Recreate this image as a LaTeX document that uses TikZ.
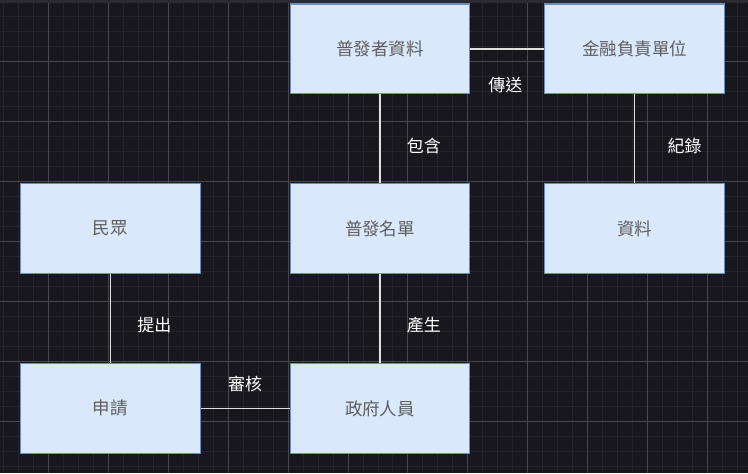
\documentclass[tikz,border=0pt]{standalone}
\usepackage{fontspec}
\setmainfont{Noto Sans CJK TC}
\begin{document}
\begin{tikzpicture}[x=1pt, y=-1pt]
    \definecolor{my-bg}{HTML}{19171E}
    \definecolor{my-strip}{HTML}{2C2A31}
    \definecolor{my-minor}{HTML}{25232A}
    \definecolor{my-major}{HTML}{48464C}
    \definecolor{my-fill}{HTML}{DAE8FC}
    \definecolor{my-border}{HTML}{6C8EBF}
    \definecolor{my-text}{HTML}{5E5E5E}
    \tikzset{
      box/.style={draw=my-border, fill=my-fill, line width=1.2pt,
        minimum width=180pt, minimum height=90pt, inner sep=0pt,
        text=my-text, font=\fontsize{17.5}{19}\selectfont},
      link/.style={draw=white!88!black, line width=1.4pt},
      tag/.style={text=white, font=\fontsize{17}{19}\selectfont, inner sep=0pt}
    }
    % background and grid
    \fill[my-bg] (0,0) rectangle (748,474);
    \foreach \x in {3,18,...,745} \draw[my-minor, line width=1pt] (\x,3) -- (\x,474);
    \foreach \y in {17,32,...,474} \draw[my-minor, line width=1pt] (0,\y) -- (748,\y);
    \foreach \x in {48,108,...,708} \draw[my-major, line width=1pt] (\x,3) -- (\x,474);
    \foreach \y in {62,122,...,422} \draw[my-major, line width=1pt] (0,\y) -- (748,\y);
    \fill[my-strip] (0,0) rectangle (748,3);
    % boxes
    \node[box] (holder)  at (380,49)  {普發者資料};
    \node[box] (bank)    at (635,49)  {金融負責單位};
    \node[box] (public)  at (110,229) {民眾};
    \node[box] (list)    at (380,229) {普發名單};
    \node[box] (record)  at (635,229) {資料};
    \node[box] (apply)   at (110,409) {申請};
    \node[box] (officer) at (380,409) {政府人員};
    % links
    \draw[link] (holder) -- node[tag, xshift=-2pt, yshift=-36pt] {傳送} (bank);
    \draw[link] (holder) -- node[tag, xshift=44pt, yshift=-7pt] {包含} (list);
    \draw[link] (bank) -- node[tag, xshift=50pt, yshift=-7pt] {紀錄} (record);
    \draw[link] (public) -- node[tag, xshift=44pt, yshift=-6pt] {提出} (apply);
    \draw[link] (list) -- node[tag, xshift=44pt, yshift=-6pt] {產生} (officer);
    \draw[link] (apply) -- node[tag, yshift=24pt] {審核} (officer);
\end{tikzpicture}
\end{document}
